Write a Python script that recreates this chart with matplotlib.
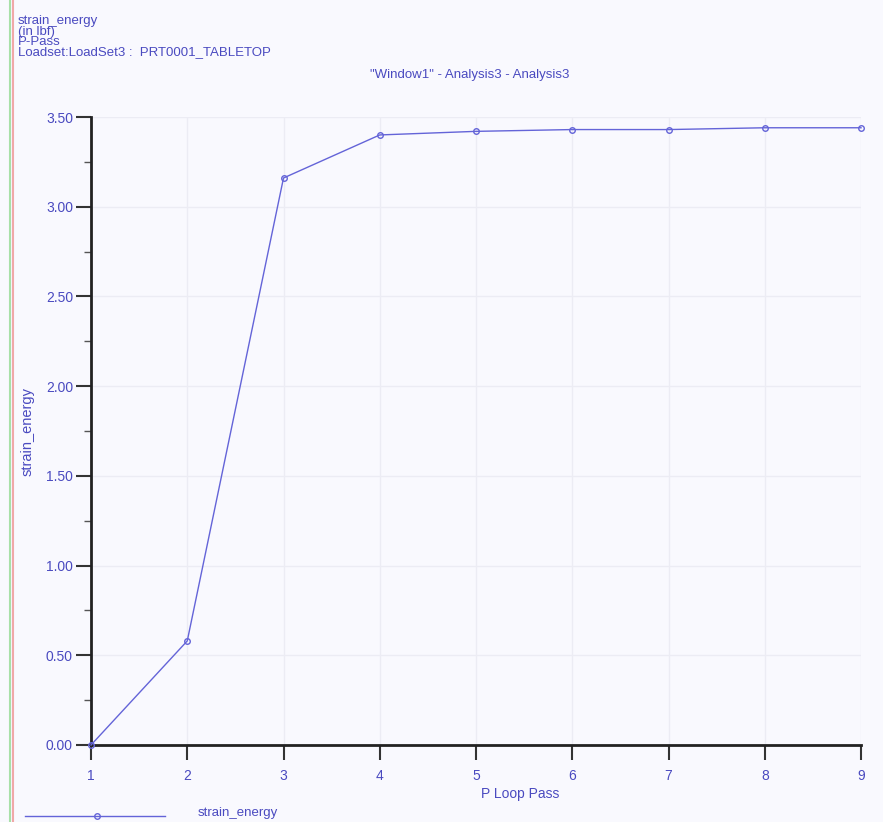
import matplotlib.pyplot as plt
from matplotlib.lines import Line2D
from matplotlib.ticker import MultipleLocator, FormatStrFormatter

# P-loop convergence of strain energy
passes = [1, 2, 3, 4, 5, 6, 7, 8, 9]
strain_energy = [0.0, 0.58, 3.16, 3.40, 3.42, 3.43, 3.43, 3.44, 3.44]

header_lines = ["strain_energy", "(in lbf)", "P-Pass", "Loadset:LoadSet3 :  PRT0001_TABLETOP"]

W, H = 883, 822
txt = "#4a4ac0"
line_c = "#6464d8"

plt.rcParams['font.family'] = ['Liberation Sans', 'DejaVu Sans']

fig = plt.figure(figsize=(W / 100, H / 100), dpi=100)
fig.patch.set_facecolor("#f9f9fe")

# axes box in pixel terms
x0, x1 = 91, 861
y_top, y_bot = 117, 745
ax = fig.add_axes([x0 / W, 1 - y_bot / H, (x1 - x0) / W, (y_bot - y_top) / H])
ax.set_facecolor("#f9f9fe")

ax.plot(passes, strain_energy, color=line_c, lw=1.0, marker='o', ms=4,
        mfc='none', mec=line_c, mew=1.0, clip_on=False, zorder=3)

ax.set_xlim(1, 9)
ax.set_ylim(0, 3.5)
ax.xaxis.set_major_locator(MultipleLocator(1))
ax.yaxis.set_major_locator(MultipleLocator(0.5))
ax.yaxis.set_minor_locator(MultipleLocator(0.25))
ax.yaxis.set_major_formatter(FormatStrFormatter('%.2f'))

for s in ['top', 'right']:
    ax.spines[s].set_visible(False)
for s in ['left', 'bottom']:
    ax.spines[s].set_linewidth(2)
    ax.spines[s].set_color('#222222')

ax.tick_params(axis='both', which='major', length=11, width=1.5, color='#333333',
               labelcolor=txt, labelsize=10)
ax.tick_params(axis='y', which='minor', length=5, width=1, color='#555555')
ax.tick_params(axis='y', pad=2)
ax.tick_params(axis='x', pad=6)

ax.grid(True, which='major', color='#ececf4', lw=1)
ax.set_axisbelow(True)

ax.set_ylabel("strain_energy", color=txt, fontsize=10.5, labelpad=8)
fig.text(520 / W, 1 - 794 / H, "P Loop Pass", color=txt, fontsize=10,
         ha='center', va='center')

# header text block
for i, s in enumerate(header_lines):
    fig.text(18 / W, 1 - (21 + 10.5 * i) / H, s, color=txt, fontsize=9.5,
             va='center', ha='left')
fig.text(470 / W, 1 - 75 / H, '"Window1" - Analysis3 - Analysis3', color=txt,
         fontsize=9.5, ha='center', va='center')

# legend sample at the bottom
fig.add_artist(Line2D([25 / W, 165 / W], [1 - 816 / H] * 2, color=line_c, lw=1))
fig.add_artist(Line2D([97 / W], [1 - 816 / H], color=line_c, marker='o', ms=4,
                      mfc='none', mew=1))
fig.text(198 / W, 1 - 813 / H, "strain_energy", color=txt, fontsize=9.5,
         ha='left', va='center')

# coloured frame edges on the left
fig.add_artist(Line2D([9.5 / W] * 2, [0, 1], color='#a8e0a8', lw=1.5))
fig.add_artist(Line2D([12.5 / W] * 2, [0, 1], color='#f0a8a8', lw=1.5))

fig.savefig("out.png", dpi=100, facecolor=fig.get_facecolor())
